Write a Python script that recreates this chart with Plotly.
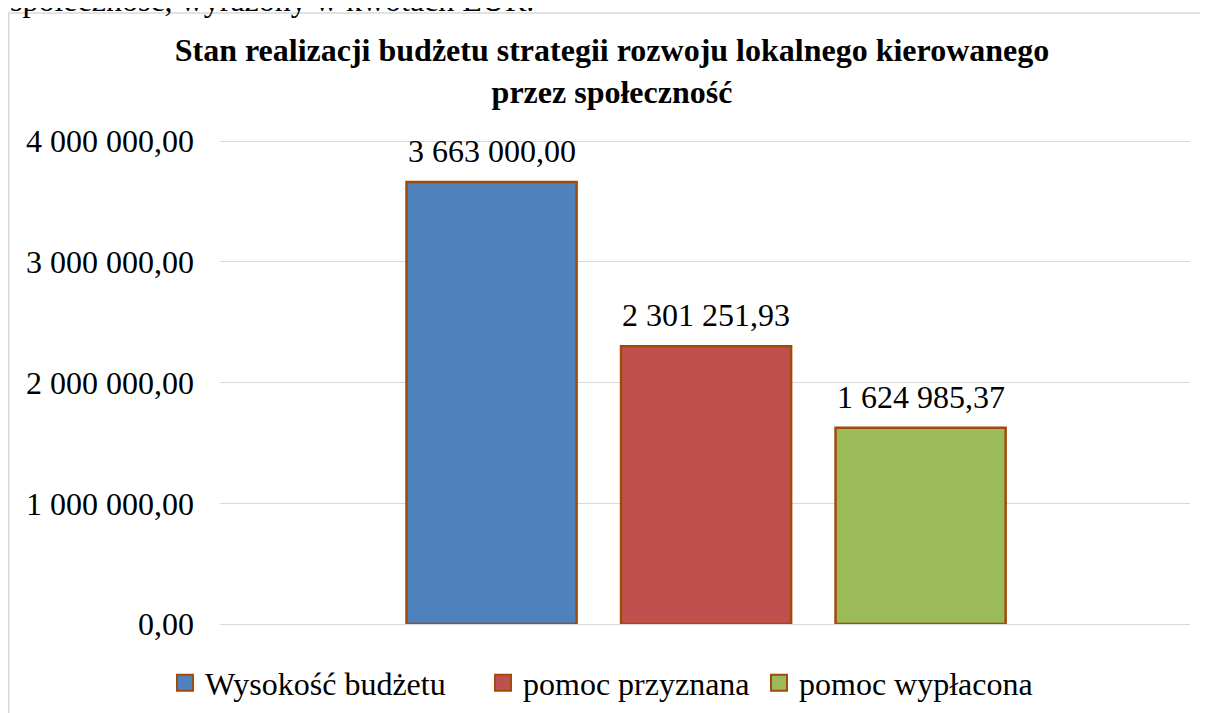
import plotly.graph_objects as go

categories = ["Wysokość budżetu", "pomoc przyznana", "pomoc wypłacona"]
values = [3663000.00, 2301251.93, 1624985.37]
colors = ["#4F81BD", "#C0504D", "#9BBB59"]
y_ticks = [0, 1000000, 2000000, 3000000, 4000000]

SERIF = "Liberation Serif, Times New Roman, serif"
EDGE = "#A04A0C"

# the page body has an 8px margin, so the figure is 8px smaller than the window
W, H = 1200, 705
L, R, T, B = 212, 18, 132, 89
PW, PH = W - L - R, H - T - B


def pl(v):
    return f"{v:,.2f}".replace(",", " ").replace(".", ",")


fig = go.Figure()
for name, val, col in zip(categories, values, colors):
    fig.add_bar(
        x=[name], y=[val], width=0.793, showlegend=False,
        marker=dict(color=col, line=dict(color=EDGE, width=2.5)),
        hoverinfo="skip",
    )

# legend proxies, one legend each so the spacing can be set
legend_x = [157 / W, 475 / W, 751 / W]
for i, (name, col) in enumerate(zip(categories, colors)):
    lg = "legend" if i == 0 else f"legend{i + 1}"
    fig.add_scatter(
        x=[None], y=[None], mode="markers", name=name, legend=lg,
        marker=dict(symbol="square", size=16, color=col, line=dict(color=EDGE, width=2)),
    )

for name, val in zip(categories, values):
    fig.add_annotation(
        x=name, y=val, text=pl(val), showarrow=False, yanchor="bottom", yshift=11,
        font=dict(family=SERIF, size=32, color="black"),
    )

# leftover text line from the document above the chart
fig.add_annotation(
    xref="paper", yref="paper", x=(0 - L) / PW, y=(PH + T - 12) / PH,
    xanchor="left", yanchor="bottom",
    text="społeczność, wyrażony w kwotach EUR.", showarrow=False,
    font=dict(family=SERIF, size=32, color="black"),
)

# chart frame
fig.add_shape(
    type="rect", xref="paper", yref="paper", layer="below",
    x0=(0.75 - L) / PW, x1=(W + 30 - L) / PW, y0=-0.3, y1=(PH + T - 5) / PH,
    line=dict(color="#D9D9D9", width=1.5), fillcolor="rgba(0,0,0,0)",
)

legend_common = dict(
    orientation="h", yref="container", y=1 - 675 / H, yanchor="middle",
    xref="container", xanchor="left",
    font=dict(family=SERIF, size=32, color="black"), bgcolor="rgba(0,0,0,0)",
)
fig.update_layout(
    width=W, height=H,
    paper_bgcolor="white", plot_bgcolor="white",
    margin=dict(l=L, r=R, t=T, b=B),
    barmode="overlay",
    separators=", ",
    font=dict(family=SERIF, color="black"),
    title=dict(
        text="<b>Stan realizacji budżetu strategii rozwoju lokalnego kierowanego<br>przez społeczność</b>",
        x=604 / W, xanchor="center", y=1 - 53 / H, yanchor="top", yref="container",
        font=dict(family=SERIF, size=32, color="black"),
    ),
    legend=dict(x=legend_x[0], **legend_common),
    legend2=dict(x=legend_x[1], **legend_common),
    legend3=dict(x=legend_x[2], **legend_common),
)
fig.update_xaxes(
    type="category", range=[-1.266, 3.256], showticklabels=False, showgrid=False,
    zeroline=False, showline=False, fixedrange=True,
)
fig.update_yaxes(
    range=[0, 4010000], tickvals=y_ticks, tickformat=",.2f",
    gridcolor="#D9D9D9", gridwidth=1.3, zeroline=True, zerolinecolor="#D9D9D9",
    zerolinewidth=1.3, showline=False,
    ticks="", ticklabelstandoff=25,
    tickfont=dict(family=SERIF, size=32, color="black"),
)

fig.write_html("out.html")
